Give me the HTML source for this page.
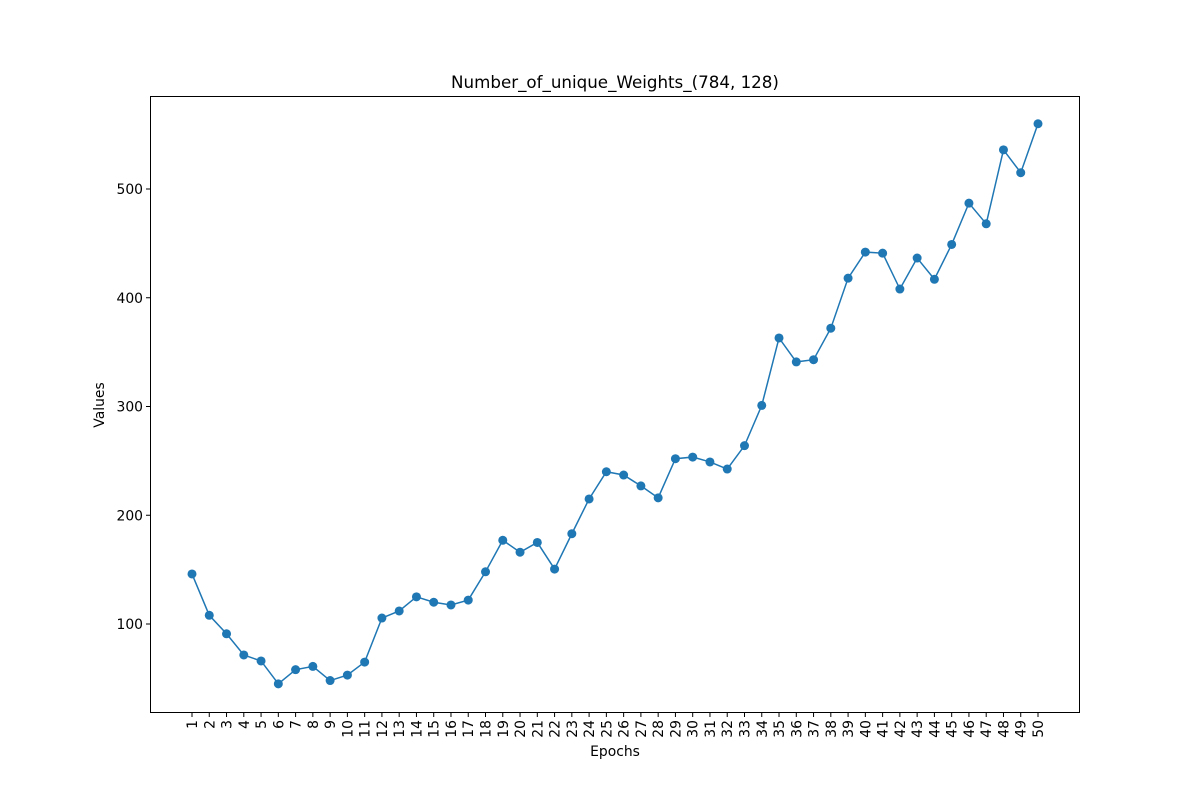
<!DOCTYPE html>
<html><head><meta charset="utf-8"><style>
body{margin:0;background:#fff;}
svg text{font-family:"DejaVu Sans","Liberation Sans",sans-serif;fill:#000;}
</style></head><body>
<svg id="chart" width="1200" height="800" viewBox="0 0 1200 800" xmlns="http://www.w3.org/2000/svg">
<rect width="1200" height="800" fill="#fff"/>
<text x="615" y="88" text-anchor="middle" font-size="16.7">Number_of_unique_Weights_(784, 128)</text>
<g id="grid"></g>
<rect x="150.5" y="96.5" width="929" height="616" fill="none" stroke="#000" stroke-width="1"/>
<text x="615" y="756" text-anchor="middle" font-size="13.9">Epochs</text>
<text transform="translate(104,405) rotate(-90)" text-anchor="middle" font-size="13.9">Values</text>
</svg>
<script>
const epochs = [];
for (let i = 1; i <= 50; i++) epochs.push(i);
const values = [146,108,91,71.5,66,45,58,61,48,53,65,105.5,112,125,120,117.5,122,148,177,166,175,150.5,183,215,240,237,227,216,252,253.5,249,242.5,264,301,363,341,343,372,418,442,441,408,436.5,417,449,487,468,536,515,560];
const yTicks = [100,200,300,400,500];

const svg = document.getElementById('chart');
const g = document.getElementById('grid');
const NS = 'http://www.w3.org/2000/svg';
const x = e => 192 + (e - 1) * (1038 - 192) / 49;
const y = v => 624 - (v - 100) * (435 / 400);

function mk(tag, attrs, parent) {
  const el = document.createElementNS(NS, tag);
  for (const k in attrs) el.setAttribute(k, attrs[k]);
  (parent || svg).appendChild(el);
  return el;
}

yTicks.forEach(t => {
  const tk = mk('line', {x1: 146, x2: 150, y1: y(t), y2: y(t), stroke: '#000'}, g);
  
  
  const lb = mk('text', {x: 143, y: y(t) + 5, 'text-anchor': 'end', 'font-size': 13.9}, g);
  
  
  lb.textContent = t;
});

epochs.forEach(e => {
  const tk = mk('line', {x1: x(e), x2: x(e), y1: 713, y2: 717, stroke: '#000'}, g);
  
  
  const lb = mk('text', {transform: `translate(${x(e) + 5},720) rotate(-90)`, 'text-anchor': 'end', 'font-size': 13.9}, g);
  
  
  lb.textContent = e;
});

const pts = epochs.map((e, i) => x(e) + ',' + y(values[i])).join(' ');
const line = mk('polyline', {points: pts, fill: 'none', stroke: '#1f77b4', 'stroke-width': 1.5});



epochs.forEach((e, i) => {
  const c = mk('circle', {cx: x(e), cy: y(values[i]), r: 4.5, fill: '#1f77b4'});
  
  
});
</script>
</body></html>
